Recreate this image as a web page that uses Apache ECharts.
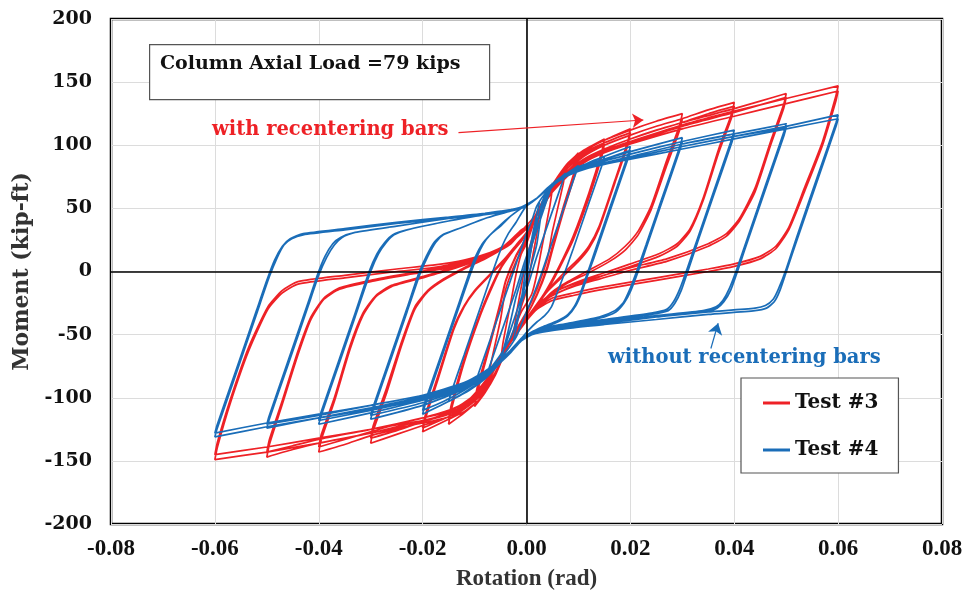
<!DOCTYPE html>
<html>
<head>
<meta charset="utf-8">
<script src="https://cdn.jsdelivr.net/npm/echarts@6/dist/echarts.min.js"></script>
<style>html,body{margin:0;padding:0;background:#fff}#c{width:971px;height:605px}</style>
</head>
<body>
<div id="c"></div>
<script>
// ---- axis ticks ----
const xTicks = [-0.08, -0.06, -0.04, -0.02, 0.00, 0.02, 0.04, 0.06, 0.08];
const yTicks = [-200, -150, -100, -50, 0, 50, 100, 150, 200];
const seriesNames = ['Test #3', 'Test #4'];

// ---- Test #3 (with recentering bars): cycles, [rotation, moment] ----
const t3_a0025 = [[0,0],[0.001,20],[0.0025,45],[0.002,30],[0.001,8],[0,-15],[-0.001,-28],[-0.0025,-50],[-0.002,-35],[-0.001,-12],[0,10]];
const t3_a0050 = [[0.001,25],[0.003,48],[0.005,66],[0.0045,52],[0.003,20],[0.002,-2],[0.001,-18],[-0.001,-32],[-0.003,-52],[-0.005,-72],[-0.0045,-56],[-0.003,-24],[-0.002,-2],[-0.001,14],[0,22]];
const t3_a0075 = [[0.002,45],[0.004,60],[0.006,72],[0.0075,80],[0.007,68],[0.005,32],[0.004,10],[0.002,-14],[0,-32],[-0.002,-46],[-0.004,-62],[-0.006,-80],[-0.0075,-90],[-0.007,-76],[-0.005,-38],[-0.004,-14],[-0.002,8],[0,24]];
const t3_a0100a = [[0.002,46],[0.004,61],[0.006,74],[0.008,85],[0.01,94],[0.0095,83],[0.007,50],[0.005,20],[0.004,4],[0.002,-18],[0,-35],[-0.002,-48],[-0.004,-63],[-0.006,-82],[-0.008,-96],[-0.01,-107],[-0.0095,-96],[-0.007,-58],[-0.005,-26],[-0.004,-8],[-0.002,12],[0,26]];
const t3_a0100b = [[0.002,46],[0.004,60],[0.006,72],[0.008,82],[0.01,90],[0.0095,79],[0.007,46],[0.005,17],[0.004,2],[0.002,-19],[0,-35],[-0.002,-47],[-0.004,-62],[-0.006,-80],[-0.008,-93],[-0.01,-103],[-0.0095,-92],[-0.007,-55],[-0.005,-24],[-0.004,-7],[-0.002,13],[0,27]];
const t3_a0150a = [[0.002,47],[0.004,62],[0.006,75],[0.008,86],[0.011,96],[0.015,105],[0.0145,95],[0.012,62],[0.009,28],[0.007,10],[0.005,-6],[0.003,-20],[0,-37],[-0.002,-48],[-0.004,-62],[-0.006,-82],[-0.009,-101],[-0.012,-112],[-0.015,-121],[-0.0145,-110],[-0.012,-72],[-0.009,-36],[-0.007,-16],[-0.005,2],[-0.003,14],[-0.001,24],[0.001,36]];
const t3_a0150b = [[0.002,46],[0.004,60],[0.006,73],[0.008,84],[0.011,93],[0.015,101],[0.0145,91],[0.012,58],[0.009,25],[0.007,8],[0.005,-8],[0.003,-21],[0,-37],[-0.002,-48],[-0.004,-62],[-0.006,-80],[-0.009,-98],[-0.012,-109],[-0.015,-117],[-0.0145,-106],[-0.012,-69],[-0.009,-34],[-0.007,-14],[-0.005,3],[-0.003,15],[-0.001,25],[0.001,37]];
const t3_a0200a = [[0.002,47],[0.004,62],[0.006,75],[0.008,86],[0.011,96],[0.015,104],[0.02,113],[0.0195,103],[0.017,72],[0.014,36],[0.012,20],[0.01,10],[0.007,-2],[0.004,-15],[0.002,-26],[0,-38],[-0.002,-49],[-0.004,-63],[-0.006,-82],[-0.009,-101],[-0.012,-111],[-0.015,-117],[-0.02,-127],[-0.0195,-117],[-0.017,-85],[-0.014,-46],[-0.012,-28],[-0.01,-16],[-0.007,-3],[-0.004,10],[-0.002,20],[0,30]];
const t3_a0200b = [[0.002,46],[0.004,61],[0.006,74],[0.008,84],[0.011,94],[0.015,102],[0.02,110],[0.0195,100],[0.017,70],[0.014,34],[0.012,18],[0.01,8],[0.007,-4],[0.004,-16],[0.002,-27],[0,-38],[-0.002,-49],[-0.004,-63],[-0.006,-81],[-0.009,-99],[-0.012,-109],[-0.015,-115],[-0.02,-124],[-0.0195,-114],[-0.017,-82],[-0.014,-44],[-0.012,-27],[-0.01,-15],[-0.007,-2],[-0.004,11],[-0.002,21],[0,31]];
const t3_a0300a = [[0.002,46],[0.004,60],[0.006,73],[0.008,84],[0.011,95],[0.015,104],[0.02,112],[0.025,119],[0.03,125],[0.0295,116],[0.027,88],[0.024,52],[0.0215,32],[0.019,20],[0.016,10],[0.012,1],[0.008,-8],[0.005,-16],[0.003,-24],[0.001,-33],[-0.001,-43],[-0.003,-55],[-0.005,-68],[-0.008,-92],[-0.011,-106],[-0.015,-115],[-0.02,-122],[-0.025,-129],[-0.03,-136],[-0.0295,-126],[-0.027,-97],[-0.024,-58],[-0.0215,-30],[-0.019,-16],[-0.016,-7],[-0.012,2],[-0.008,10],[-0.005,17],[-0.003,24],[-0.001,32]];
const t3_a0300b = [[0.002,46],[0.004,60],[0.006,72],[0.008,82],[0.011,92],[0.015,100],[0.02,108],[0.025,115],[0.03,121],[0.0295,112],[0.027,84],[0.024,49],[0.0215,29],[0.019,17],[0.016,8],[0.012,-1],[0.008,-9],[0.005,-17],[0.003,-25],[0.001,-34],[-0.001,-44],[-0.003,-55],[-0.005,-68],[-0.008,-91],[-0.011,-104],[-0.015,-112],[-0.02,-119],[-0.025,-126],[-0.03,-132],[-0.0295,-122],[-0.027,-93],[-0.024,-55],[-0.0215,-28],[-0.019,-15],[-0.016,-6],[-0.012,3],[-0.008,11],[-0.005,18],[-0.003,25],[-0.001,33]];
const t3_a0400a = [[0.001,38],[0.003,53],[0.005,66],[0.008,80],[0.011,91],[0.015,100],[0.02,108],[0.025,115],[0.03,121],[0.035,128],[0.04,134],[0.0395,125],[0.037,97],[0.034,58],[0.0315,34],[0.029,22],[0.0255,14],[0.02,6],[0.015,-1],[0.01,-8],[0.006,-15],[0.003,-23],[0.001,-32],[-0.001,-42],[-0.003,-54],[-0.005,-67],[-0.008,-90],[-0.011,-104],[-0.015,-113],[-0.02,-119],[-0.025,-125],[-0.03,-130],[-0.035,-137],[-0.04,-143],[-0.0395,-133],[-0.037,-103],[-0.034,-62],[-0.0315,-35],[-0.029,-20],[-0.026,-12],[-0.02,-5],[-0.015,1],[-0.01,8],[-0.006,15],[-0.003,22],[-0.001,31]];
const t3_a0400b = [[0.001,38],[0.003,52],[0.005,65],[0.008,79],[0.011,89],[0.015,97],[0.02,105],[0.025,112],[0.03,118],[0.035,125],[0.04,131],[0.0395,122],[0.037,94],[0.034,56],[0.0315,32],[0.029,20],[0.0255,12],[0.02,4],[0.015,-3],[0.01,-10],[0.006,-17],[0.003,-24],[0.001,-33],[-0.001,-43],[-0.003,-54],[-0.005,-67],[-0.008,-89],[-0.011,-102],[-0.015,-110],[-0.02,-116],[-0.025,-121],[-0.03,-127],[-0.035,-133],[-0.04,-139],[-0.0395,-129],[-0.037,-100],[-0.034,-59],[-0.0315,-33],[-0.029,-19],[-0.026,-11],[-0.02,-4],[-0.015,2],[-0.01,9],[-0.006,16],[-0.003,23],[-0.001,32]];
const t3_a0500a = [[0.001,38],[0.003,52],[0.005,65],[0.008,79],[0.011,89],[0.015,97],[0.02,105],[0.03,118],[0.04,129],[0.045,135],[0.05,141],[0.0495,132],[0.047,103],[0.044,66],[0.041,42],[0.0385,30],[0.035,22],[0.027,10],[0.02,3],[0.014,-4],[0.009,-10],[0.005,-17],[0.002,-27],[0,-38],[-0.002,-50],[-0.005,-67],[-0.008,-88],[-0.011,-103],[-0.015,-113],[-0.02,-118],[-0.03,-128],[-0.04,-136],[-0.045,-141],[-0.05,-147],[-0.0495,-137],[-0.047,-105],[-0.044,-66],[-0.0415,-38],[-0.039,-22],[-0.036,-14],[-0.03,-8],[-0.022,-2],[-0.015,3],[-0.01,9],[-0.006,15],[-0.003,22],[-0.001,31]];
const t3_a0500b = [[0.001,38],[0.003,52],[0.005,64],[0.008,77],[0.011,87],[0.015,95],[0.02,102],[0.03,115],[0.04,126],[0.045,132],[0.05,138],[0.0495,129],[0.047,100],[0.044,63],[0.041,40],[0.0385,28],[0.035,20],[0.027,8],[0.02,1],[0.014,-6],[0.009,-12],[0.005,-19],[0.002,-28],[0,-39],[-0.002,-50],[-0.005,-67],[-0.008,-87],[-0.011,-101],[-0.015,-111],[-0.02,-116],[-0.03,-125],[-0.04,-133],[-0.045,-138],[-0.05,-143],[-0.0495,-133],[-0.047,-102],[-0.044,-63],[-0.0415,-36],[-0.039,-21],[-0.036,-13],[-0.03,-7],[-0.022,-1],[-0.015,4],[-0.01,10],[-0.006,16],[-0.003,23],[-0.001,32]];
const t3_a0600a = [[0.001,38],[0.003,52],[0.005,64],[0.008,78],[0.011,88],[0.015,96],[0.02,103],[0.03,116],[0.04,127],[0.05,137],[0.06,147],[0.0595,138],[0.057,103],[0.0535,66],[0.0505,35],[0.048,20],[0.045,12],[0.04,6],[0.035,2],[0.025,-5],[0.015,-12],[0.009,-17],[0.005,-21],[0.002,-29],[0,-38],[-0.002,-50],[-0.005,-68],[-0.008,-90],[-0.011,-104],[-0.015,-115],[-0.02,-120],[-0.03,-128],[-0.04,-136],[-0.05,-143],[-0.06,-149],[-0.0595,-139],[-0.057,-104],[-0.0535,-63],[-0.0498,-30],[-0.047,-17],[-0.044,-10],[-0.035,-5],[-0.025,0],[-0.018,3],[-0.012,8],[-0.007,14],[-0.004,20],[-0.001,30]];
const t3_a0600b = [[0.001,38],[0.003,51],[0.005,63],[0.008,76],[0.011,86],[0.015,94],[0.02,101],[0.03,113],[0.04,123],[0.05,133],[0.06,143],[0.0595,134],[0.057,100],[0.0535,63],[0.0505,33],[0.048,18],[0.045,10],[0.04,4],[0.035,0],[0.025,-7],[0.015,-14],[0.009,-19],[0.005,-23],[0.002,-30],[0,-39],[-0.002,-50],[-0.005,-67],[-0.008,-88],[-0.011,-102],[-0.015,-113],[-0.02,-118],[-0.03,-125],[-0.04,-132],[-0.05,-139],[-0.06,-145],[-0.0595,-135],[-0.057,-101],[-0.0535,-60],[-0.0498,-28],[-0.047,-15],[-0.044,-8],[-0.035,-3],[-0.025,2],[-0.018,5],[-0.012,9],[-0.007,15],[-0.004,21],[-0.001,30]];

// ---- Test #4 (without recentering bars) ----
const t4_a0025 = [[0,0],[0.0012,30],[0.0025,55],[0.002,45],[0,5],[-0.0012,-28],[-0.0025,-55],[-0.002,-45],[0,-5],[0.001,20]];
const t4_a0050 = [[0.002,40],[0.004,60],[0.005,70],[0.0046,65],[0.002,33],[0,8],[-0.001,-6],[-0.002,-20],[-0.003,-38],[-0.004,-55],[-0.005,-70],[-0.0046,-65],[-0.002,-33],[0,-8],[0.001,6],[0.002,22]];
const t4_a0075 = [[0.003,50],[0.004,62],[0.006,72],[0.0075,78],[0.0071,73],[0.005,48],[0.002,12],[0.0005,-8],[-0.001,-25],[-0.002,-40],[-0.003,-52],[-0.005,-66],[-0.0075,-80],[-0.0071,-75],[-0.005,-50],[-0.002,-14],[-0.0005,6],[0.001,24],[0.002,38]];
const t4_a0100 = [[0.003,55],[0.004,63],[0.006,72],[0.008,78],[0.01,84],[0.0096,79],[0.007,48],[0.004,12],[0.0025,-6],[0.0012,-20],[0,-32],[-0.001,-42],[-0.002,-52],[-0.004,-64],[-0.006,-74],[-0.008,-82],[-0.01,-90],[-0.0096,-85],[-0.007,-54],[-0.004,-18],[-0.0025,0],[-0.0012,16],[0,30],[0.001,40]];
const t4_a0150 = [[0.002,52],[0.004,64],[0.006,72],[0.009,81],[0.012,86],[0.015,91],[0.0146,85],[0.012,54],[0.009,18],[0.007,-5],[0.0058,-18],[0.0048,-28],[0.0035,-35],[0.002,-40],[0.0005,-46],[-0.001,-53],[-0.003,-62],[-0.005,-72],[-0.008,-85],[-0.011,-94],[-0.015,-103],[-0.0146,-97],[-0.012,-66],[-0.009,-30],[-0.007,-6],[-0.0058,8],[-0.0047,20],[-0.0035,30],[-0.002,39],[-0.001,46]];
const t4_a0200a = [[0,52],[0.002,58],[0.004,66],[0.006,73],[0.009,80],[0.013,88],[0.02,99],[0.0196,93],[0.016,50],[0.013,14],[0.0115,-4],[0.0103,-18],[0.0093,-27],[0.008,-34],[0.006,-39],[0.003,-44],[0.001,-48],[-0.001,-54],[-0.003,-63],[-0.005,-72],[-0.008,-84],[-0.012,-96],[-0.016,-105],[-0.02,-113],[-0.0196,-107],[-0.016,-64],[-0.013,-28],[-0.0108,-2],[-0.0095,12],[-0.0083,22],[-0.007,29],[-0.005,36],[-0.003,44],[-0.001,50]];
const t4_a0200b = [[0,52],[0.002,58],[0.004,65],[0.006,72],[0.009,79],[0.013,86],[0.02,96],[0.0196,90],[0.016,47],[0.013,11],[0.0117,-4],[0.0105,-18],[0.0095,-27],[0.008,-35],[0.006,-40],[0.003,-45],[0.001,-49],[-0.001,-55],[-0.003,-64],[-0.005,-72],[-0.008,-83],[-0.012,-94],[-0.016,-103],[-0.02,-110],[-0.0196,-104],[-0.016,-61],[-0.013,-25],[-0.0111,-2],[-0.0098,12],[-0.0085,22],[-0.007,29],[-0.005,37],[-0.003,44],[-0.001,50]];
const t4_a0300a = [[0,52],[0.002,58],[0.004,66],[0.006,72],[0.008,78],[0.012,85],[0.02,95],[0.03,106],[0.0296,100],[0.026,57],[0.023,21],[0.0212,0],[0.0198,-15],[0.0186,-25],[0.017,-31],[0.014,-36],[0.008,-41],[0.003,-45],[0.001,-48],[-0.001,-54],[-0.003,-62],[-0.005,-71],[-0.008,-81],[-0.012,-93],[-0.02,-106],[-0.03,-117],[-0.0296,-111],[-0.026,-68],[-0.023,-32],[-0.0205,-2],[-0.019,12],[-0.0175,23],[-0.016,29],[-0.013,34],[-0.008,42],[-0.003,48],[-0.001,51]];
const t4_a0300b = [[0,52],[0.002,58],[0.004,65],[0.006,71],[0.008,77],[0.012,84],[0.02,93],[0.03,103],[0.0296,97],[0.026,54],[0.023,18],[0.0215,0],[0.02,-16],[0.0188,-25],[0.0172,-32],[0.014,-37],[0.008,-42],[0.003,-46],[0.001,-49],[-0.001,-55],[-0.003,-63],[-0.005,-71],[-0.008,-81],[-0.012,-92],[-0.02,-104],[-0.03,-114],[-0.0296,-108],[-0.026,-65],[-0.023,-29],[-0.0208,-2],[-0.0193,12],[-0.0178,23],[-0.0162,29],[-0.013,34],[-0.008,42],[-0.003,48],[-0.001,51]];
const t4_a0400a = [[0,52],[0.002,58],[0.004,66],[0.006,72],[0.008,77],[0.012,84],[0.02,93],[0.03,103],[0.04,112],[0.0396,106],[0.036,63],[0.033,27],[0.031,3],[0.0295,-14],[0.0283,-24],[0.027,-30],[0.024,-33],[0.015,-38],[0.008,-42],[0.003,-46],[0.001,-49],[-0.001,-54],[-0.003,-62],[-0.005,-70],[-0.008,-80],[-0.012,-91],[-0.02,-102],[-0.03,-112],[-0.04,-121],[-0.0396,-115],[-0.036,-72],[-0.033,-36],[-0.03,0],[-0.0285,14],[-0.027,23],[-0.0255,29],[-0.023,33],[-0.015,40],[-0.008,45],[-0.003,49],[-0.001,51]];
const t4_a0400b = [[0,52],[0.002,58],[0.004,65],[0.006,71],[0.008,76],[0.012,83],[0.02,91],[0.03,101],[0.04,109],[0.0396,103],[0.036,60],[0.033,24],[0.0313,3],[0.0298,-15],[0.0286,-25],[0.0273,-31],[0.024,-34],[0.015,-39],[0.008,-43],[0.003,-47],[0.001,-50],[-0.001,-55],[-0.003,-63],[-0.005,-71],[-0.008,-80],[-0.012,-90],[-0.02,-101],[-0.03,-110],[-0.04,-118],[-0.0396,-112],[-0.036,-69],[-0.033,-33],[-0.0303,0],[-0.0288,14],[-0.0273,23],[-0.0258,29],[-0.023,33],[-0.015,40],[-0.008,45],[-0.003,49],[-0.001,51]];
const t4_a0500a = [[0,52],[0.002,58],[0.004,66],[0.006,72],[0.008,77],[0.012,83],[0.02,91],[0.03,101],[0.04,109],[0.05,117],[0.0496,111],[0.046,68],[0.042,20],[0.0405,2],[0.039,-14],[0.0378,-23],[0.0365,-28],[0.034,-31],[0.025,-35],[0.015,-40],[0.008,-43],[0.003,-46],[0.001,-49],[-0.001,-54],[-0.003,-62],[-0.005,-70],[-0.008,-79],[-0.012,-89],[-0.02,-99],[-0.03,-108],[-0.04,-116],[-0.05,-124],[-0.0496,-118],[-0.046,-75],[-0.042,-27],[-0.04,-3],[-0.0385,11],[-0.037,21],[-0.0355,27],[-0.033,31],[-0.025,36],[-0.015,42],[-0.008,46],[-0.003,49],[-0.001,51]];
const t4_a0500b = [[0,52],[0.002,58],[0.004,65],[0.006,71],[0.008,76],[0.012,82],[0.02,90],[0.03,99],[0.04,107],[0.05,114],[0.0496,108],[0.046,65],[0.042,17],[0.0407,1],[0.0393,-15],[0.038,-24],[0.0367,-29],[0.034,-32],[0.025,-36],[0.015,-41],[0.008,-44],[0.003,-47],[0.001,-50],[-0.001,-55],[-0.003,-63],[-0.005,-70],[-0.008,-79],[-0.012,-88],[-0.02,-98],[-0.03,-106],[-0.04,-114],[-0.05,-121],[-0.0496,-115],[-0.046,-72],[-0.042,-24],[-0.0402,-2],[-0.0388,12],[-0.0373,22],[-0.0358,27],[-0.033,31],[-0.025,36],[-0.015,42],[-0.008,46],[-0.003,49],[-0.001,51]];
const t4_a0600a = [[0,52],[0.002,58],[0.004,66],[0.006,72],[0.008,77],[0.012,83],[0.02,90],[0.03,99],[0.04,107],[0.05,115],[0.06,124],[0.0596,118],[0.056,75],[0.052,27],[0.05,2],[0.0485,-14],[0.0475,-22],[0.046,-27],[0.044,-29],[0.035,-32],[0.025,-36],[0.015,-40],[0.008,-43],[0.003,-46],[0.001,-49],[-0.001,-54],[-0.003,-62],[-0.005,-70],[-0.008,-79],[-0.012,-88],[-0.02,-98],[-0.03,-106],[-0.04,-113],[-0.05,-120],[-0.06,-128],[-0.0596,-122],[-0.056,-79],[-0.052,-31],[-0.05,-7],[-0.0485,9],[-0.047,20],[-0.0455,26],[-0.043,30],[-0.035,34],[-0.025,39],[-0.015,43],[-0.008,46],[-0.003,49],[-0.001,51]];
const t4_a0600b = [[0,53],[0.002,58],[0.004,65],[0.006,71],[0.008,76],[0.012,82],[0.02,89],[0.03,97],[0.04,105],[0.05,113],[0.06,121],[0.0596,115],[0.056,72],[0.052,24],[0.0502,2],[0.0488,-15],[0.0477,-24],[0.0462,-29],[0.044,-31],[0.035,-34],[0.025,-38],[0.015,-42],[0.008,-45],[0.003,-48],[0.001,-50],[-0.001,-55],[-0.003,-63],[-0.005,-71],[-0.008,-80],[-0.012,-90],[-0.02,-100],[-0.03,-109],[-0.04,-116],[-0.05,-123],[-0.06,-131],[-0.0596,-125],[-0.056,-82],[-0.052,-34],[-0.0495,-4],[-0.048,11],[-0.0467,21],[-0.0452,26],[-0.043,29],[-0.035,33],[-0.025,38],[-0.015,42],[-0.008,45],[-0.003,48],[-0.001,50]];

// ---- annotation anchor points (data coordinates) ----
const redArrow = [[-0.0131, 110], [0.0225, 120]];
const blueArrow = [[0.0355, -61], [0.0369, -41]];

const test3Path = [].concat(t3_a0025, t3_a0050, t3_a0075, t3_a0100a, t3_a0100b, t3_a0150a, t3_a0150b,
  t3_a0200a, t3_a0200b, t3_a0300a, t3_a0300b, t3_a0400a, t3_a0400b, t3_a0500a, t3_a0500b, t3_a0600a, t3_a0600b);
const test4Path = [].concat(t4_a0025, t4_a0050, t4_a0075, t4_a0100, t4_a0150, t4_a0200a, t4_a0200b,
  t4_a0300a, t4_a0300b, t4_a0400a, t4_a0400b, t4_a0500a, t4_a0500b, t4_a0600a, t4_a0600b);

const RED = '#EE2126', BLUE = '#1A6DB8';
const chart = echarts.init(document.getElementById('c'), null, {renderer: 'canvas'});
const serifB = 'Liberation Serif';
const capB = 'DejaVu Serif';

chart.setOption({
  animation: false,
  backgroundColor: '#fff',
  grid: {left: 111, right: 29, top: 19, bottom: 81, show: true, borderColor: '#000', borderWidth: 2.5, backgroundColor: 'transparent'},
  xAxis: {
    type: 'value', min: xTicks[0], max: xTicks[xTicks.length - 1], interval: 0.02,
    axisLine: {show: false, onZero: false}, axisTick: {show: false},
    splitLine: {show: true, lineStyle: {color: '#dcdcdc', width: 1}},
    axisLabel: {margin: 14, color: '#111', fontFamily: serifB, fontWeight: 'bold', fontSize: 23,
      formatter: v => (Math.abs(v) < 1e-9 ? 0 : v).toFixed(2)},
    name: 'Rotation (rad)', nameLocation: 'middle', nameGap: 44,
    nameTextStyle: {color: '#333', fontFamily: serifB, fontWeight: 'bold', fontSize: 23}
  },
  yAxis: {
    type: 'value', min: yTicks[0], max: yTicks[yTicks.length - 1], interval: 50,
    axisLine: {show: false, onZero: false}, axisTick: {show: false},
    splitLine: {show: true, lineStyle: {color: '#dcdcdc', width: 1}},
    axisLabel: {margin: 19, color: '#111', fontFamily: capB, fontWeight: 'bold', fontSize: 19},
    name: 'Moment (kip-ft)', nameLocation: 'middle', nameGap: 72, nameRotate: 90,
    nameTextStyle: {color: '#333', fontFamily: capB, fontWeight: 'bold', fontSize: 22}
  },
  legend: {
    data: seriesNames, orient: 'vertical', left: 741, top: 378,
    backgroundColor: '#fff', borderColor: '#555', borderWidth: 1.2,
    padding: [13, 20, 11, 22], itemGap: 23, itemWidth: 27, itemHeight: 3, icon: 'rect',
    textStyle: {fontFamily: capB, fontWeight: 'bold', fontSize: 20, color: '#111', lineHeight: 24, padding: [0, 0, 0, 0]}
  },
  graphic: [
    {type: 'rect', left: 149, top: 44, shape: {width: 340, height: 55}, style: {fill: '#fff', stroke: '#555', lineWidth: 1.2}, z: 10},
    {type: 'text', left: 160, top: 55, style: {text: 'Column Axial Load =79 kips', fill: '#111', font: 'bold 19px "DejaVu Serif"'}, z: 11},
    {type: 'text', left: 212, top: 120, style: {text: 'with recentering bars', fill: RED, font: 'bold 19.5px "DejaVu Serif"'}, z: 11},
    {type: 'text', left: 608, top: 348, style: {text: 'without recentering bars', fill: BLUE, font: 'bold 19.5px "DejaVu Serif"'}, z: 11}
  ],
  series: [
    {
      type: 'line', name: 'zero', data: [], silent: true, z: 1,
      markLine: {silent: true, symbol: 'none', label: {show: false}, animation: false,
        lineStyle: {color: '#000', width: 1.6, type: 'solid'},
        data: [{xAxis: 0}, {yAxis: 0}]}
    },
    {
      type: 'line', name: seriesNames[0], data: test3Path, showSymbol: false, symbol: 'none', smooth: 0.2,
      lineStyle: {color: RED, width: 1.7}, itemStyle: {color: RED}, z: 2, clip: true,
      markLine: {silent: true, symbol: ['none', 'arrow'], symbolSize: 11, label: {show: false}, animation: false,
        lineStyle: {color: RED, width: 1.2, type: 'solid'},
        data: [[{coord: redArrow[0], symbol: 'none'}, {coord: redArrow[1], symbol: 'arrow', symbolSize: 11}]]}
    },
    {
      type: 'line', name: seriesNames[1], data: test4Path, showSymbol: false, symbol: 'none', smooth: 0.2,
      lineStyle: {color: BLUE, width: 1.7}, itemStyle: {color: BLUE}, z: 3, clip: true,
      markLine: {silent: true, symbol: ['none', 'arrow'], symbolSize: 11, label: {show: false}, animation: false,
        lineStyle: {color: BLUE, width: 1.2, type: 'solid'},
        data: [[{coord: blueArrow[0], symbol: 'none'}, {coord: blueArrow[1], symbol: 'arrow', symbolSize: 11}]]}
    }
  ]
});
</script>
</body>
</html>
